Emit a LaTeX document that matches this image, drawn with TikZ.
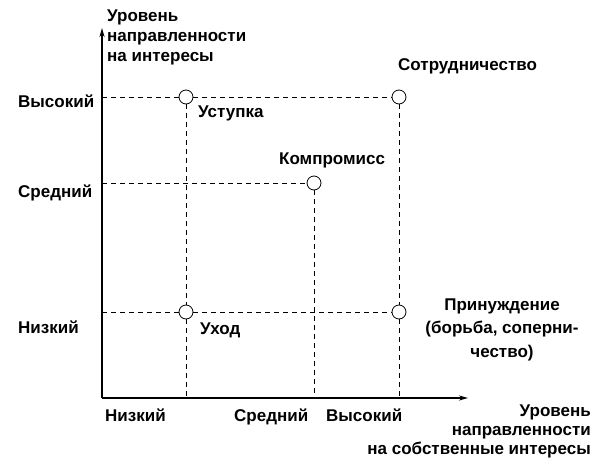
\documentclass[tikz,border=0pt]{standalone}
\usepackage{fontspec}
\setmainfont{Liberation Sans}
\usetikzlibrary{positioning, arrows.meta}

\begin{document}
\begin{tikzpicture}[x=1pt, y=-1pt,
    every node/.style={font=\fontsize{17}{20}\selectfont\bfseries, inner sep=0pt},
    axis/.style={-{Stealth[length=9pt, width=5pt]}, line width=1.6pt},
    guide/.style={dash pattern=on 5pt off 4pt, line width=0.8pt},
    dot/.style={circle, draw, fill=white, line width=0.8pt, minimum size=14pt},
    lvl/.style={anchor=base west},
    tag/.style={anchor=base west},
  ]

  \useasboundingbox (0,0) rectangle (597,461);

  % axes
  \coordinate (o) at (102,398);
  \coordinate (ytip) at (102,28);
  \coordinate (xtip) at (468,398);
  \draw[axis] (o) -- (ytip);
  \draw[axis] (o) -- (xtip);

  % strategy points
  \node[dot] (ust) at (186,97) {};
  \node[dot] (sotr) at (399,97) {};
  \node[dot] (komp) at (314,183) {};
  \node[dot] (uhod) at (186,312) {};
  \node[dot] (prin) at (399,312) {};

  % guide lines
  \draw[guide] (o |- ust) -- (ust);
  \draw[guide] (ust) -- (sotr);
  \draw[guide] (o |- komp) -- (komp);
  \draw[guide] (o |- uhod) -- (uhod);
  \draw[guide] (uhod) -- (prin);
  \draw[guide] (ust) -- (uhod);
  \draw[guide] (uhod) -- (uhod |- o);
  \draw[guide] (komp) -- (komp |- o);
  \draw[guide] (sotr) -- (prin);
  \draw[guide] (prin) -- (prin |- o);

  % axis titles
  \node[anchor=base west, align=left] (ytitle) at (107,61) {Уровень\\направленности\\на интересы};
  \node[anchor=base east, align=right, font=\fontsize{17}{19}\selectfont\bfseries] (xtitle) at (591,454)
    {Уровень\\направленности\\на собственные интересы};

  % levels, vertical
  \node[lvl] (yhigh) at (18,107) {Высокий};
  \node[lvl] (ymid) at (18,197) {Средний};
  \node[lvl] (ylow) at (18,333) {Низкий};

  % levels, horizontal
  \node[lvl] (xlow) at (105,421) {Низкий};
  \node[lvl] (xmid) at (234,421) {Средний};
  \node[lvl] (xhigh) at (326,421) {Высокий};

  % strategy names
  \node[tag] (lust) at (198,117) {Уступка};
  \node[tag] (lsotr) at (398,70) {Сотрудничество};
  \node[tag] (lkomp) at (279,164) {Компромисс};
  \node[tag] (luhod) at (200,334) {Уход};
  \node[anchor=base, align=center, font=\fontsize{17}{23.5}\selectfont\bfseries] (lprin) at (502,357)
    {Принуждение\\(борьба, соперни-\\чество)};

\end{tikzpicture}
\end{document}
